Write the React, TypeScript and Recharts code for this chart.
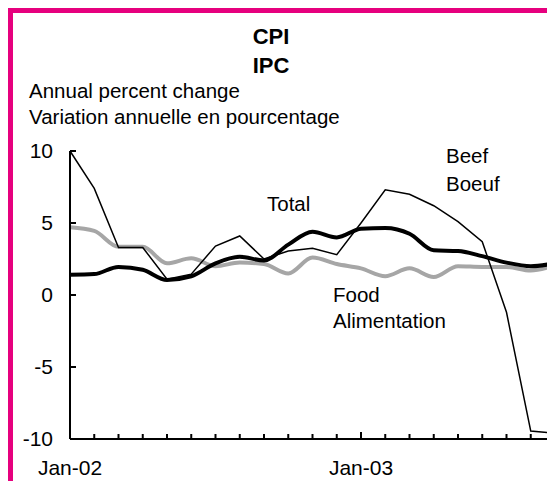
import { LineChart, Line, XAxis, YAxis } from 'recharts'

// CPI, variation annuelle en pourcentage (Jan-02 .. Sep-03)
const months = [
  'Jan-02', 'Feb-02', 'Mar-02', 'Apr-02', 'May-02', 'Jun-02', 'Jul-02', 'Aug-02', 'Sep-02', 'Oct-02', 'Nov-02', 'Dec-02',
  'Jan-03', 'Feb-03', 'Mar-03', 'Apr-03', 'May-03', 'Jun-03', 'Jul-03', 'Aug-03', 'Sep-03',
]
const total = [1.4, 1.45, 1.95, 1.75, 1.05, 1.3, 2.2, 2.65, 2.4, 3.5, 4.4, 4.0, 4.6, 4.65, 4.25, 3.1, 3.05, 2.7, 2.25, 2.0, 2.2]
const food = [4.7, 4.45, 3.35, 3.35, 2.2, 2.55, 2.0, 2.25, 2.15, 1.5, 2.6, 2.15, 1.85, 1.3, 1.85, 1.25, 2.0, 1.95, 1.95, 1.7, 2.05]
const beef = [10, 7.4, 3.3, 3.3, 1.1, 1.45, 3.4, 4.1, 2.5, 3.05, 3.25, 2.8, 5.0, 7.3, 7.0, 6.2, 5.1, 3.7, -1.2, -9.45, -9.6]

const xLabels = ['Jan-02', 'Jan-03']
const yTicks = [-10, -5, 0, 5, 10]

const data = months.map((month, i) => ({ i, month, total: total[i], food: food[i], beef: beef[i] }))

const FONT = '"Liberation Sans", Arial, sans-serif'
const MAGENTA = '#E6007E'
const FS = 20.5

// ticks vers l'intérieur, étiquette seulement pour janvier
const XTick = ({ x, y, payload }: any) => {
  const label = months[payload.value]
  const major = xLabels.includes(label)
  return (
    <g>
      <line x1={x} x2={x} y1={y} y2={y - (major ? 7 : 5)} stroke="#000" strokeWidth={2} />
      {major && (
        <text x={x} y={y + 36} textAnchor="middle" fontSize={21} fontFamily={FONT} fill="#000">
          {label}
        </text>
      )}
    </g>
  )
}

const YTick = ({ x, y, payload }: any) => (
  <g>
    <line x1={x} x2={x + 6} y1={y} y2={y} stroke="#000" strokeWidth={2} />
    <text x={x - 17} y={y + 7} textAnchor="end" fontSize={21} fontFamily={FONT} fill="#000">
      {payload.value}
    </text>
  </g>
)

export default function App() {
  return (
    <div
      style={{
        position: 'relative',
        width: 547,
        height: 473,
        boxSizing: 'border-box',
        borderTop: `5px solid ${MAGENTA}`,
        borderLeft: `5px solid ${MAGENTA}`,
        fontFamily: FONT,
      }}
    >
      <div style={{ position: 'absolute', left: -5, top: -5 }}>
        <LineChart width={547} height={481} data={data} margin={{ top: 143, right: 0, bottom: 0, left: 0 }}>
          <XAxis
            dataKey="i"
            type="number"
            domain={[0, 20]}
            ticks={months.map((_, i) => i)}
            interval={0}
            height={50}
            tickSize={0}
            tickMargin={0}
            tickLine={false}
            axisLine={{ stroke: '#000', strokeWidth: 2 }}
            tick={<XTick />}
          />
          <YAxis
            type="number"
            domain={[-10, 10]}
            ticks={yTicks}
            interval={0}
            width={62}
            tickSize={0}
            tickMargin={0}
            tickLine={false}
            axisLine={{ stroke: '#000', strokeWidth: 2 }}
            tick={<YTick />}
          />
          <Line type="monotone" dataKey="food" stroke="#A6A6A6" strokeWidth={4} dot={false} isAnimationActive={false} />
          <Line type="linear" dataKey="beef" stroke="#000" strokeWidth={1.5} dot={false} isAnimationActive={false} />
          <Line type="monotone" dataKey="total" stroke="#000" strokeWidth={4} dot={false} isAnimationActive={false} />
        </LineChart>
      </div>
      {/* titres et annotations, en coordonnées de page */}
      <svg
        width={547}
        height={481}
        style={{ position: 'absolute', left: -5, top: -5, pointerEvents: 'none' }}
        fontFamily={FONT}
        fontSize={FS}
        fill="#000"
      >
        <g transform="translate(-8,-8)">
          <text x={271} y={44} textAnchor="middle" fontWeight="bold" fontSize={22}>CPI</text>
          <text x={271} y={73} textAnchor="middle" fontWeight="bold" fontSize={22}>IPC</text>
          <text x={29} y={98}>Annual percent change</text>
          <text x={29} y={124}>Variation annuelle en pourcentage</text>
          <text x={267} y={211}>Total</text>
          <text x={446} y={163}>Beef</text>
          <text x={446} y={191}>Boeuf</text>
          <text x={333} y={302}>Food</text>
          <text x={333} y={328}>Alimentation</text>
        </g>
      </svg>
    </div>
  )
}
